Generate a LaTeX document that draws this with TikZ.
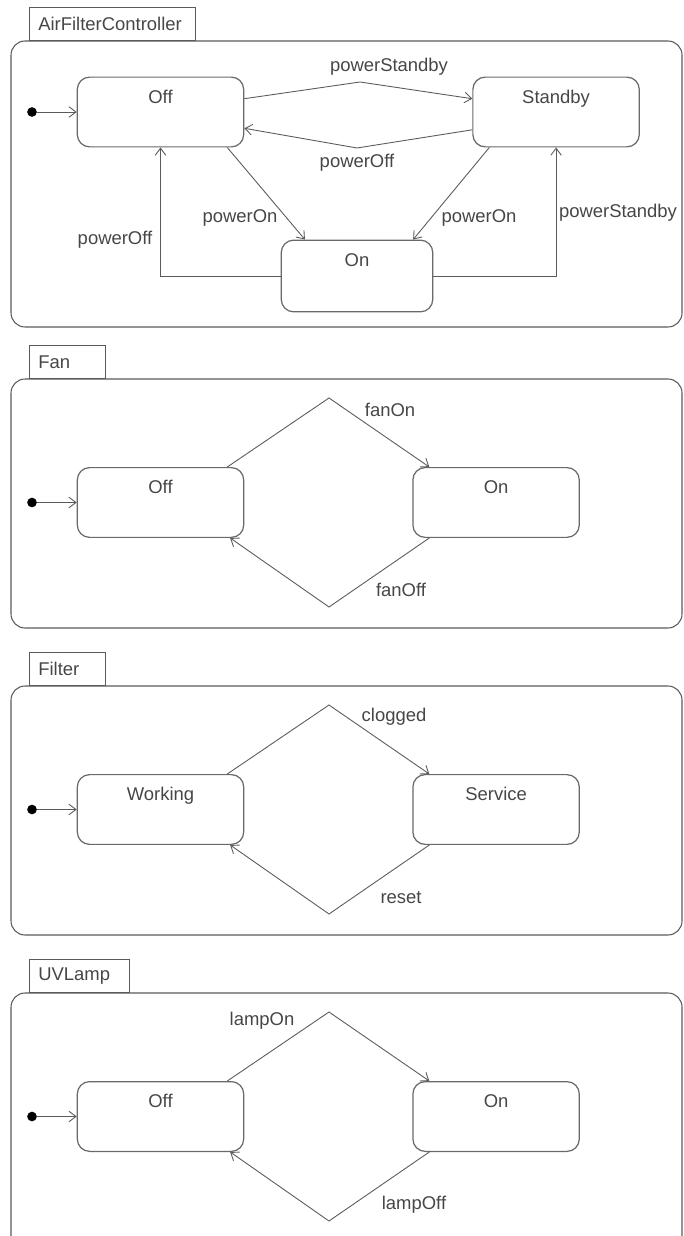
\documentclass[tikz,border=0pt]{standalone}
\usepackage{fontspec}
\setmainfont{Liberation Sans}
\usetikzlibrary{positioning,arrows.meta}
\definecolor{linegray}{RGB}{90,90,90}
\definecolor{textgray}{RGB}{70,70,70}
\definecolor{boxgray}{RGB}{105,105,105}

\begin{document}
\begin{tikzpicture}[x=0.02cm, y=-0.02cm,
    every node/.style={font=\fontsize{10.5}{12}\selectfont, text=textgray},
    panel/.style={draw=linegray, rounded corners=8pt, line width=0.6pt},
    paneltab/.style={draw=linegray, line width=0.6pt, anchor=south west, minimum height=18.7pt, inner xsep=5pt, align=left},
    state/.style={draw=boxgray, rounded corners=7pt, line width=0.7pt, minimum width=94.7pt, inner ysep=0pt, text height=15pt, text depth=24.7pt},
    initdot/.style={circle, fill=black, inner sep=0pt, minimum size=5.5pt},
    trans/.style={-{Straight Barb[length=4pt,width=6pt]}, draw=linegray, line width=0.5pt},
    lbl/.style={inner sep=1pt}]
    \useasboundingbox (0,0) rectangle (683,1236);
    \clip (0,0) rectangle (683,1236);

    % AirFilterController
    \draw [panel] (11,41) rectangle (682,327);
    \node [paneltab, text width=84.7pt] (aftab) at (29,41) {AirFilterController};
    \node [state] (off) at (160.5,112) {Off};
    \node [state, right=4.56cm of off] (standby) {Standby};
    \node [state, minimum width=86.2pt, text depth=25.8pt] (on) at (357,276) {On};
    \node [initdot] (afinit) at (32,112) {};
    \coordinate (afup) at (360,82);
    \coordinate (afdown) at (357,148);

    \draw [trans] (afinit) -- (off.west);
    \draw [trans] (off.9) -- (afup) -- (standby.171);
    \draw [trans] (standby.192) -- (afdown) -- (off.-11);
    \draw [trans] (off.-28) -- (on.145);
    \draw [trans] (standby.-152) -- (on.33);
    \draw [trans] (on.west) -| (off.south);
    \draw [trans] (on.east) -| (standby.south);

    \node [lbl] (l1) at (389,67) {powerStandby};
    \node [lbl] (l2) at (357,163) {powerOff};
    \node [lbl] (l3) at (240,218) {powerOn};
    \node [lbl] (l4) at (479,218) {powerOn};
    \node [lbl] (l5) at (115,240) {powerOff};
    \node [lbl] (l6) at (618,213) {powerStandby};

    % Fan
    \draw [panel] (11,379) rectangle (682,628);
    \node [paneltab, text width=33.1pt] (fantab) at (29,379) {Fan};
    \node [state] (fanoff) at (160.5,502.5) {Off};
    \node [state, right=3.36cm of fanoff] (fanon) {On};
    \node [initdot] (faninit) at (32,502.5) {};
    \coordinate (fanup) at (329,398);
    \coordinate (fandown) at (329,607);

    \draw [trans] (faninit) -- (fanoff.west);
    \draw [trans] (fanoff.28.5) -- (fanup) -- (fanon.152);
    \draw [trans] (fanon.208.7) -- (fandown) -- (fanoff.-27.8);

    \node [lbl] (l7) at (390,410) {fanOn};
    \node [lbl] (l8) at (401,590) {fanOff};

    % Filter
    \draw [panel] (11,686) rectangle (682,935);
    \node [paneltab, text width=33.1pt] (filtertab) at (29,686) {Filter};
    \node [state] (working) at (160.5,809.5) {Working};
    \node [state, right=3.36cm of working] (service) {Service};
    \node [initdot] (filterinit) at (32,809.5) {};
    \coordinate (filterup) at (329,705);
    \coordinate (filterdown) at (329,914);

    \draw [trans] (filterinit) -- (working.west);
    \draw [trans] (working.28.5) -- (filterup) -- (service.152);
    \draw [trans] (service.208.7) -- (filterdown) -- (working.-27.8);

    \node [lbl] (l9) at (394,717) {clogged};
    \node [lbl] (l10) at (401,898) {reset};

    % UVLamp
    \draw [panel] (11,993) rectangle (682,1260);
    \node [paneltab, text width=46.7pt] (lamptab) at (29,993) {UVLamp};
    \node [state] (lampoff) at (160.5,1116.5) {Off};
    \node [state, right=3.36cm of lampoff] (lampon) {On};
    \node [initdot] (lampinit) at (32,1116.5) {};
    \coordinate (lampup) at (329,1012);
    \coordinate (lampdown) at (329,1221);

    \draw [trans] (lampinit) -- (lampoff.west);
    \draw [trans] (lampoff.28.5) -- (lampup) -- (lampon.152);
    \draw [trans] (lampon.208.7) -- (lampdown) -- (lampoff.-27.8);

    \node [lbl] (l11) at (262,1021) {lampOn};
    \node [lbl] (l12) at (414,1205) {lampOff};
\end{tikzpicture}
\end{document}
